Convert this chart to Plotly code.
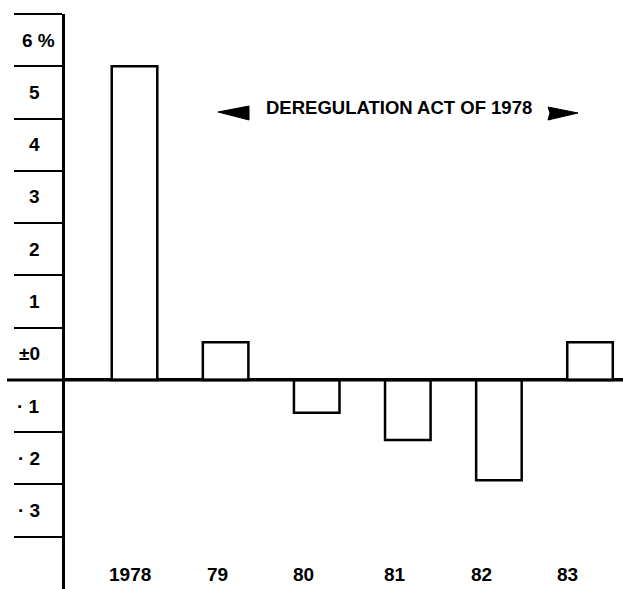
import plotly.graph_objects as go

# ---- data ----
years = ["1978", "79", "80", "81", "82", "83"]
change_pct = [6.0, 0.72, -0.63, -1.15, -1.92, 0.72]
y_tick_values = [6, 5, 4, 3, 2, 1, 0, -1, -2, -3]
y_tick_labels = ["6 %", "5", "4", "3", "2", "1", "±0", "· 1", "· 2", "· 3"]
annotation_text = "DEREGULATION ACT OF 1978"

W, H = 623, 589
ML, MR, MT, MB = 65, 0, 14, 0
PW, PH = W - ML - MR, H - MT - MB

def px(x):
    return (x - ML) / PW

def py(y):
    return (H - MB - y) / PH

FONT = "Liberation Sans, Arial, sans-serif"
x_pos = list(range(len(years)))
# small horizontal nudges for category labels (as in the original artwork)
label_nudge = [-0.05, -0.09, -0.15, -0.14, -0.19, -0.25]

fig = go.Figure()
fig.add_trace(go.Bar(
    x=x_pos, y=change_pct, width=0.5,
    marker=dict(color="white", line=dict(color="black", width=2.5)),
    hoverinfo="skip",
))

shapes = []
shapes.append(dict(type="line", xref="paper", yref="y", x0=px(7), x1=1, y0=0, y1=0,
                   line=dict(color="black", width=3), layer="above"))

def path(points):
    return "M " + " L ".join(f"{px(a):.5f},{py(b):.5f}" for a, b in points) + " Z"

left_arrow = [(218, 112), (249, 106), (249, 120)]
right_arrow = [(578, 113), (548, 107), (550, 113), (548, 120)]
for pts in (left_arrow, right_arrow):
    shapes.append(dict(type="path", xref="paper", yref="paper", path=path(pts),
                       fillcolor="black", line=dict(color="black", width=1)))

annotations = []
for v, t in zip(y_tick_values, y_tick_labels):
    right = 57 if t.endswith("%") else 42
    annotations.append(dict(x=px(right), xref="paper", y=v + 0.5, yref="y", text=f"<b>{t}</b>",
                            showarrow=False, xanchor="right", yanchor="middle",
                            font=dict(family=FONT, size=19, color="black")))
for i, (x, t) in enumerate(zip(x_pos, years)):
    annotations.append(dict(x=x + label_nudge[i], y=-3.73, xref="x", yref="y", text=f"<b>{t}</b>",
                            showarrow=False, xanchor="center", yanchor="middle",
                            font=dict(family=FONT, size=19, color="black")))
annotations.append(dict(x=px(399), y=py(108), xref="paper", yref="paper",
                        text=f"<b>{annotation_text}</b>",
                        showarrow=False, xanchor="center", yanchor="middle",
                        font=dict(family=FONT, size=18.5, color="black")))

fig.update_layout(
    width=W, height=H,
    margin=dict(l=ML, r=MR, t=MT, b=MB, pad=0),
    paper_bgcolor="white", plot_bgcolor="white",
    showlegend=False,
    shapes=shapes, annotations=annotations,
    xaxis=dict(range=[-0.763, 5.362], showgrid=False, zeroline=False,
               showticklabels=False, ticks="", showline=False, fixedrange=True),
    yaxis=dict(range=[-4, 7], showgrid=False, zeroline=True, zerolinecolor="black",
               zerolinewidth=3, showline=True, linecolor="black", linewidth=2.5,
               showticklabels=False, ticks="",
               minor=dict(tickvals=list(range(-3, 8)), ticks="outside", ticklen=48,
                          tickwidth=2, tickcolor="black"),
               fixedrange=True),
)

fig.write_html("out.html", config={"displayModeBar": False},
               post_script="document.body.style.margin='0';document.body.style.padding='0';")
